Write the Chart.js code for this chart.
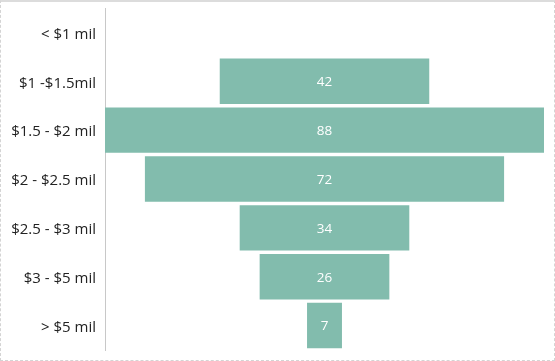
<!DOCTYPE html>
<html>
<head>
<meta charset="utf-8">
<script src="https://cdn.jsdelivr.net/npm/chart.js@4"></script>
<style>
    html, body { margin: 0; padding: 0; background: #fff; }
    #wrap { position: relative; width: 555px; height: 361px; }
    #frame { position: absolute; left: 0; top: 0; width: 555px; height: 361px; box-sizing: border-box; border: 1px dashed #d4d4d4; border-top: 2px solid #dcdcdc; pointer-events: none; }
    canvas { position: absolute; left: 0; top: 0; }
</style>
</head>
<body>
<div id="wrap"><canvas id="funnel" width="555" height="361"></canvas><div id="frame"></div></div>
<script>
// Funnel data
const categories = ['< $1 mil', '$1 -$1.5mil', '$1.5 - $2 mil', '$2 - $2.5 mil', '$2.5 - $3 mil', '$3 - $5 mil', '> $5 mil'];
const counts = [0, 42, 88, 72, 34, 26, 7];

// Centered floating bars give the funnel shape
const spans = counts.map(v => [-v / 2, v / 2]);

// Draw the count inside each bar
const valueLabels = {
    id: 'valueLabels',
    afterDatasetsDraw(chart) {
        const ctx = chart.ctx;
        const meta = chart.getDatasetMeta(0);
        ctx.save();
        ctx.fillStyle = '#ffffff';
        ctx.font = '13.5px "Open Sans", "DejaVu Sans", sans-serif';
        ctx.textAlign = 'center';
        ctx.textBaseline = 'middle';
        meta.data.forEach((bar, i) => {
            if (!counts[i]) return;
            const cx = chart.scales.x.getPixelForValue(0);
            ctx.fillText(String(counts[i]), cx, bar.y + 1);
        });
        ctx.restore();
    }
};

const ctx = document.getElementById('funnel').getContext('2d');
new Chart(ctx, {
    type: 'bar',
    data: {
        labels: categories,
        datasets: [{
            data: spans,
            backgroundColor: '#82bcad',
            borderWidth: 0,
            barPercentage: 0.93,
            categoryPercentage: 1
        }]
    },
    options: {
        indexAxis: 'y',
        responsive: false,
        animation: false,
        layout: { padding: { top: 8, right: 11, bottom: 11, left: 0 } },
        plugins: {
            legend: { display: false },
            tooltip: { enabled: false }
        },
        scales: {
            x: {
                display: false,
                min: -44,
                max: 44
            },
            y: {
                afterFit(scale) {
                    scale.width = 105;
                    scale.paddingTop = 0;
                    scale.paddingBottom = 0;
                },
                grid: { display: false, drawTicks: false },
                border: { display: true, color: '#c8c8c8', dash: [2, 1] },
                ticks: {
                    color: '#222222',
                    padding: 9,
                    labelOffset: 2,
                    font: { size: 15, family: '"Open Sans", "DejaVu Sans", sans-serif' }
                }
            }
        }
    },
    plugins: [valueLabels]
});
</script>
</body>
</html>
